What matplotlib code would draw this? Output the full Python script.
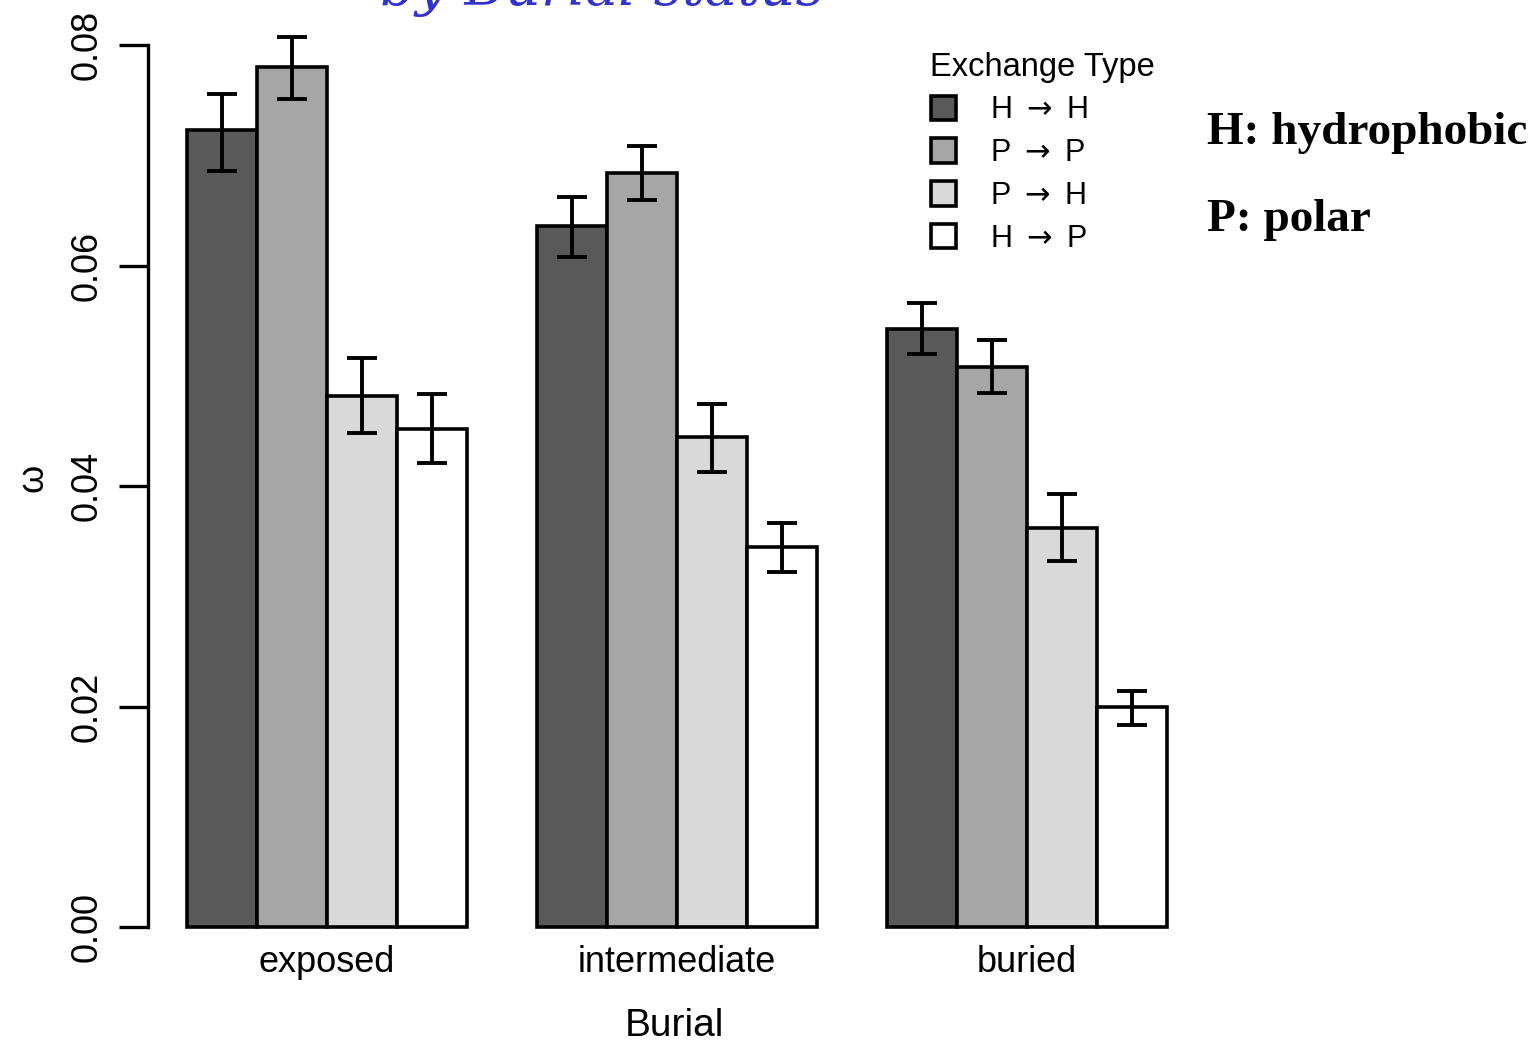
import matplotlib
matplotlib.use("Agg")
import matplotlib.pyplot as plt
from matplotlib.patches import Patch
import numpy as np

plt.rcParams['font.family'] = ['Liberation Sans', 'DejaVu Sans']

categories = ["exposed", "intermediate", "buried"]
series = ["H $\\rightarrow$ H", "P $\\rightarrow$ P", "P $\\rightarrow$ H", "H $\\rightarrow$ P"]
values = {
    "HH": [0.0723, 0.0636, 0.0542],
    "PP": [0.0780, 0.0684, 0.0508],
    "PH": [0.0482, 0.0444, 0.0362],
    "HP": [0.0452, 0.0345, 0.0200],
}
err_low = {
    "HH": [0.0686, 0.0608, 0.0520],
    "PP": [0.0751, 0.0659, 0.0484],
    "PH": [0.0448, 0.0413, 0.0332],
    "HP": [0.0421, 0.0322, 0.0183],
}
err_high = {
    "HH": [0.0756, 0.0662, 0.0566],
    "PP": [0.0807, 0.0708, 0.0532],
    "PH": [0.0516, 0.0474, 0.0393],
    "HP": [0.0483, 0.0366, 0.0214],
}
keys = ["HH", "PP", "PH", "HP"]
colors = ["#595959", "#a6a6a6", "#d9d9d9", "#ffffff"]
yticks = [0.00, 0.02, 0.04, 0.06, 0.08]
ytick_labels = ["0.00", "0.02", "0.04", "0.06", "0.08"]

W, H = 1540, 1043
fig = plt.figure(figsize=(W / 100, H / 100), dpi=100)
x0, x1 = 148, 1200
ytop, ybot = 20, 935
ax = fig.add_axes([x0 / W, (H - ybot) / H, (x1 - x0) / W, (ybot - ytop) / H])

unit_px = 70.0
u0_px = 117.0
ax.set_xlim((x0 - u0_px) / unit_px, (x1 - u0_px) / unit_px)
px_per_y = 11025.0
ax.set_ylim(-(ybot - 927) / px_per_y, (927 - ytop) / px_per_y)

for si, k in enumerate(keys):
    xs = np.array([1 + gi * 5 + si + 0.5 for gi in range(len(categories))])
    vals = np.array(values[k])
    lo = vals - np.array(err_low[k])
    hi = np.array(err_high[k]) - vals
    ax.bar(xs, vals, width=1.0, color=colors[si], edgecolor="black",
           linewidth=2.6, zorder=2)
    ax.errorbar(xs, vals, yerr=[lo, hi], fmt="none", ecolor="black",
                elinewidth=2.8, capsize=11, capthick=2.8, zorder=3)

for sp in ["top", "right", "bottom"]:
    ax.spines[sp].set_visible(False)
ax.spines["left"].set_linewidth(2.4)
ax.spines["left"].set_bounds(0, 0.08)
ax.set_yticks(yticks)
ax.set_yticklabels(ytick_labels, rotation=90, va="center", fontsize=26)
ax.tick_params(axis="y", length=21, width=2.4, pad=10)
ax.set_xticks([1 + gi * 5 + 2 for gi in range(len(categories))])
ax.set_xticklabels(categories, fontsize=26)
ax.tick_params(axis="x", length=0, pad=7)
ax.set_ylabel("\u03c9", fontsize=26, labelpad=14)
ax.set_xlabel("Burial", fontsize=28, labelpad=20)

handles = [Patch(facecolor=c, edgecolor="black", linewidth=2.6) for c in colors]
leg = ax.legend(handles, series, title="Exchange Type", loc="upper left",
                bbox_to_anchor=((903 - x0) / (x1 - x0), 1 - (24 - ytop) / (ybot - ytop)),
                frameon=False, fontsize=22, title_fontsize=23.5,
                handlelength=0.85, handleheight=0.85, handletextpad=1.1,
                labelspacing=0.42, alignment="left")

fig.text(1207 / W, 1 - 133 / H, "H: hydrophobic", family="Liberation Serif",
         fontweight="bold", fontsize=34, va="center", ha="left")
fig.text(1207 / W, 1 - 220 / H, "P: polar", family="Liberation Serif",
         fontweight="bold", fontsize=34, va="center", ha="left")
fig.text(380 / W, 1 - 5 / H, "by Burial status", color="#3333cc",
         family="DejaVu Serif", style="italic", fontsize=40, va="baseline", ha="left")

fig.savefig("out.png", dpi=100)
